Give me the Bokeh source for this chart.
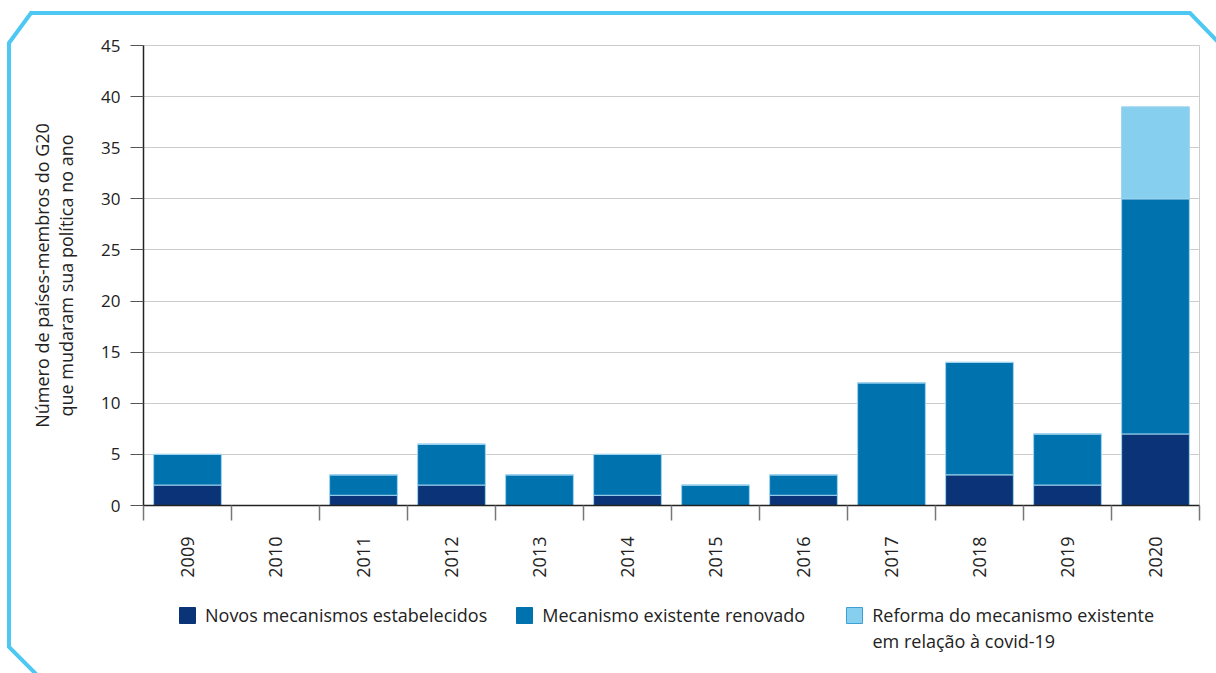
import math
from urllib.parse import quote
from bokeh.plotting import figure
from bokeh.layouts import column
from bokeh.models import (FixedTicker, Legend, LegendItem, InlineStyleSheet, Label,
                          SingleIntervalTicker, ColumnDataSource, Range1d)
from bokeh.embed import file_html
from bokeh.resources import INLINE

# ---- data ----
years = ["2009", "2010", "2011", "2012", "2013", "2014",
         "2015", "2016", "2017", "2018", "2019", "2020"]
novos = [2, 0, 1, 2, 0, 1, 0, 1, 0, 3, 2, 7]
renovado = [3, 0, 2, 4, 3, 4, 2, 2, 12, 11, 5, 23]
covid = [0, 0, 0, 0, 0, 0, 0, 0, 0, 0, 0, 9]
series_names = ["Novos mecanismos estabelecidos",
                "Mecanismo existente renovado",
                "Reforma do mecanismo existente"]
series3_line2 = "em relação à covid-19"
y_label = "Número de países-membros do G20\nque mudaram sua política no ano"

colors = ["#0b3478", "#0072ae", "#87cfee"]
FONT = "Open Sans"
TXT = "#222222"

xs = [i + 0.5 for i in range(len(years))]
src = ColumnDataSource(dict(x=xs, novos=novos, renovado=renovado, covid=covid))

W, H = 1216, 673
H1 = 600
p = figure(width=W, height=H1, output_backend="svg", toolbar_location=None,
           x_range=Range1d(0, len(years)), y_range=Range1d(0, 45),
           min_border_left=143, min_border_right=17, min_border_top=45,
           min_border_bottom=95)
p.background_fill_color = "white"
p.border_fill_color = None
p.outline_line_color = "#cccccc"

rs = p.vbar_stack(["novos", "renovado", "covid"], x="x", width=0.77, source=src,
                  color=colors, line_color="#9fd3ef", line_width=1)

# grid
p.xgrid.visible = False
p.ygrid.grid_line_color = "#cccccc"
p.ygrid.grid_line_width = 1

# y axis
ya = p.yaxis[0]
ya.ticker = SingleIntervalTicker(interval=5)
ya.axis_label = y_label
ya.axis_label_text_font = FONT
ya.axis_label_text_font_size = "18px"
ya.axis_label_text_font_style = "normal"
ya.axis_label_text_color = TXT
ya.axis_label_text_line_height = 1.0
ya.axis_label_standoff = 20
ya.major_label_text_font = FONT
ya.major_label_text_font_size = "17px"
ya.major_label_text_color = TXT
ya.major_label_standoff = 10
ya.major_tick_out = 13
ya.major_tick_in = 0
ya.minor_tick_out = 0
ya.minor_tick_in = 0
ya.major_tick_line_color = "#555555"
ya.axis_line_color = "#222222"
ya.axis_line_width = 1.5

# x axis: labels at centers, separators as minor ticks at boundaries
xa = p.xaxis[0]
xa.ticker = FixedTicker(ticks=xs, minor_ticks=list(range(len(years) + 1)))
xa.major_label_overrides = {x: y for x, y in zip(xs, years)}
xa.major_label_orientation = math.pi / 2
xa.major_label_text_font = FONT
xa.major_label_text_font_size = "18px"
xa.major_label_text_color = TXT
xa.major_label_standoff = 16
xa.major_tick_out = 0
xa.major_tick_in = 0
xa.minor_tick_out = 15
xa.minor_tick_in = 0
xa.minor_tick_line_color = "#777777"
xa.minor_tick_line_width = 1.5
xa.axis_line_color = "#222222"
xa.axis_line_width = 1.5

# ---- legend strip below the chart ----
H2 = H - H1
q = figure(width=W, height=H2, output_backend="svg", toolbar_location=None,
           x_range=Range1d(0, 1), y_range=Range1d(0, 1),
           x_axis_location=None, y_axis_location=None,
           min_border_left=0, min_border_right=0, min_border_top=0,
           min_border_bottom=0)
q.grid.visible = False
q.outline_line_color = None
q.background_fill_color = None
q.border_fill_color = None
edge = ["#0b3478", "#0072ae", "#3d9fd6"]
# off-range dummy bars that only serve as legend swatches
lrs = [q.vbar(x=[-10], top=[-9], bottom=[-10], width=0.5, fill_color=colors[i],
              line_color=edge[i], line_width=1) for i in range(3)]
legend = Legend(items=[LegendItem(label=series_names[i], renderers=[lrs[i]])
                       for i in range(3)],
                orientation="horizontal", location=(34, 46),
                glyph_width=20, glyph_height=20, label_standoff=8,
                spacing=27, padding=0, margin=0, label_width=275,
                label_text_font=FONT, label_text_font_size="18px",
                label_text_color=TXT,
                border_line_color=None, background_fill_alpha=0)
q.add_layout(legend, "center")
q.add_layout(Label(x=729, y=33, x_units="screen", y_units="screen",
                   text=series3_line2, text_font=FONT, text_font_size="18px",
                   text_color=TXT, text_baseline="middle", text_align="left"))

layout = column(p, q, spacing=0)

# decorative chamfered frame behind the canvases
pts = [(38, 676), (9, 647), (9, 43), (31, 13), (1190, 13), (1222, 46)]
svg = ("<svg xmlns='http://www.w3.org/2000/svg' width='%d' height='%d'>"
       "<polyline points='%s' fill='none' stroke='#4cc8f2' stroke-width='4' "
       "stroke-linejoin='miter'/></svg>" %
       (W, H, " ".join("%d,%d" % pt for pt in pts)))
css = (":host { background-color: white; background-repeat: no-repeat; "
       "background-image: url(\"data:image/svg+xml;utf8,%s\"); }" % quote(svg))
layout.stylesheets = [InlineStyleSheet(css=css)]

open("out.html", "w").write(file_html(layout, INLINE))
